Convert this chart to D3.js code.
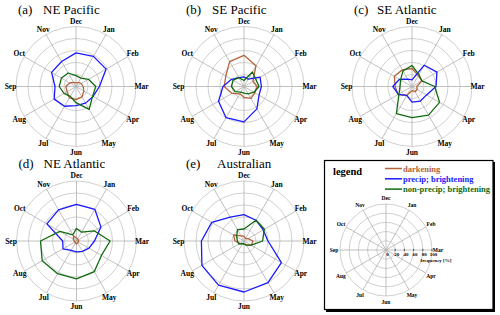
<!DOCTYPE html>
<html>
<head>
<meta charset="utf-8">
<script src="https://cdn.jsdelivr.net/npm/d3@7"></script>
<style>
body{margin:0;background:#fff;}
</style>
</head>
<body>
<div id="chart"></div>
<script>
// months, Jan..Dec (Dec sits at the top, going clockwise)
var months = ["Jan","Feb","Mar","Apr","May","Jun","Jul","Aug","Sep","Oct","Nov","Dec"];
var tags = ["(a)","(b)","(c)","(d)","(e)"];
var regions = ["NE Pacific","SE Pacific","SE Atlantic","NE Atlantic","Australian"];
var ringTicks = [20,40,60,80,100];
var freqTicks = [0,20,40,60,80,100];

// frequency [%] per month, one row per region
var darkening = [
  [8,10,12,15,20,22,22,17,17,12,8,6],
  [40,17,22,21,23,18,14,23,33,35,48,52],
  [21,19,8,10,10,7,17,27,28,34,32,30],
  [4,3,4,3,4,5,4,3,4,6,10,5],
  [5,8,15,14,8,5,5,8,15,20,10,8]
];
var precip = [
  [58,58,39,33,32,32,38,42,35,47,48,56],
  [14,31,29,29,43,59,60,49,35,24,17,16],
  [41,48,40,28,28,26,17,26,32,24,14,11],
  [61,47,30,24,20,18,18,26,23,57,60,61],
  [40,37,40,72,80,85,85,81,71,62,46,44]
];
var nonPrecip = [
  [16,24,33,32,44,27,19,23,28,28,26,18],
  [28,23,25,19,14,11,11,17,21,21,17,10],
  [23,19,38,53,55,52,52,25,20,22,30,35],
  [17,34,56,48,59,63,63,66,60,32,12,21],
  [40,39,31,14,8,5,5,10,11,14,22,20]
];
var seriesNames = ["darkening","precip; brightening","non-precip; brightening"];
var colours = ["#b5633a","#1a1aff","#116b11"];

var FONT = "'Liberation Serif', Tinos, 'Times New Roman', Times, 'DejaVu Serif', serif";

var width = 500, height = 315;
var svg = d3.select("#chart").append("svg")
  .attr("width", width)
  .attr("height", height)
  .attr("font-family", FONT);

var centres = [[76,86.5],[244,86.5],[412,86.5],[76.5,241],[244,241]];
var nameOffset = [-33,-32,-35,-33,-27];

function ang(i){ return (i+1)*Math.PI/6; }

function grid(g, r, R, fs, lr){
  g.selectAll("circle.ring")
    .data(ringTicks)
    .enter().append("circle")
    .attr("class","ring")
    .attr("r", d => r(d))
    .attr("fill","none")
    .attr("stroke","#c4c4c4")
    .attr("stroke-width",0.8);
  g.selectAll("line.spoke")
    .data(months)
    .enter().append("line")
    .attr("class","spoke")
    .attr("x1",0).attr("y1",0)
    .attr("x2",(d,i) => R*Math.sin(ang(i)))
    .attr("y2",(d,i) => -R*Math.cos(ang(i)))
    .attr("stroke","#b0b0b0")
    .attr("stroke-width",0.8);
  g.selectAll("text.month")
    .data(months)
    .enter().append("text")
    .attr("class","month")
    .attr("x",(d,i) => lr*Math.sin(ang(i)))
    .attr("y",(d,i) => -lr*Math.cos(ang(i)))
    .attr("text-anchor","middle")
    .attr("dominant-baseline","central")
    .attr("font-family", FONT)
    .style("font-size",fs+"px")
    .style("font-weight","bold")
    .text(d => d);
}

var R = 60;
var r = d3.scaleLinear().domain([0,100]).range([0,R]);
var line = d3.lineRadial()
  .angle((d,i) => ang(i))
  .radius(d => r(d))
  .curve(d3.curveLinearClosed);

regions.forEach(function(name, k){
  var c = centres[k];
  var g = svg.append("g").attr("transform","translate("+c[0]+","+c[1]+")");
  grid(g, r, R, 7.5, 65.5);

  [darkening[k], precip[k], nonPrecip[k]].forEach(function(s, j){
    g.append("path")
      .datum(s)
      .attr("d", line)
      .attr("fill","none")
      .attr("stroke",colours[j])
      .attr("stroke-width",1.3)
      .attr("stroke-linejoin","round");
  });

  svg.append("text")
    .attr("x", c[0]-58)
    .attr("y", c[1]-73)
    .attr("font-family", FONT)
    .style("font-size","13px")
    .text(tags[k]);
  svg.append("text")
    .attr("x", c[0]+nameOffset[k])
    .attr("y", c[1]-73)
    .attr("font-family", FONT)
    .style("font-size","13px")
    .text(name);
});

// legend panel
var lg = svg.append("g");
lg.append("rect")
  .attr("x",326).attr("y",162).attr("width",169).attr("height",150)
  .attr("fill","#000");
lg.append("rect")
  .attr("x",324.5).attr("y",160.5).attr("width",168.5).attr("height",149)
  .attr("fill","#fff").attr("stroke","#000").attr("stroke-width",1.2);

lg.append("text")
  .attr("x",333).attr("y",175)
  .attr("font-family", FONT)
  .style("font-size","10.5px")
  .style("font-weight","bold")
  .text("legend");

seriesNames.forEach(function(n, j){
  var yy = 168.5 + j*10.3;
  lg.append("line")
    .attr("x1",385).attr("x2",402)
    .attr("y1",yy).attr("y2",yy)
    .attr("stroke",colours[j]).attr("stroke-width",1.5);
  lg.append("text")
    .attr("x",403).attr("y",yy)
    .attr("dominant-baseline","central")
    .attr("font-family", FONT)
    .style("font-size","8.5px")
    .style("font-weight","bold")
    .attr("fill",colours[j])
    .text(n);
});

var R2 = 46;
var r2 = d3.scaleLinear().domain([0,100]).range([0,R2]);
var lc = lg.append("g").attr("transform","translate(386,250)");
grid(lc, r2, R2, 5.5, 52);

lc.selectAll("line.tk")
  .data(freqTicks.slice(1))
  .enter().append("line")
  .attr("x1",d => r2(d)).attr("x2",d => r2(d))
  .attr("y1",-1.2).attr("y2",1.2)
  .attr("stroke","#000").attr("stroke-width",0.6);
lc.selectAll("text.tk")
  .data(freqTicks)
  .enter().append("text")
  .attr("x",d => r2(d)+1.5)
  .attr("y",5.5)
  .attr("text-anchor","middle")
  .attr("font-family", FONT)
  .style("font-size","5px")
  .style("font-weight","bold")
  .text(d => d);
lc.append("text")
  .attr("x",50).attr("y",11.5)
  .attr("text-anchor","middle")
  .attr("font-family", FONT)
  .style("font-size","5px")
  .style("font-weight","bold")
  .text("frequency [%]");
</script>
</body>
</html>
